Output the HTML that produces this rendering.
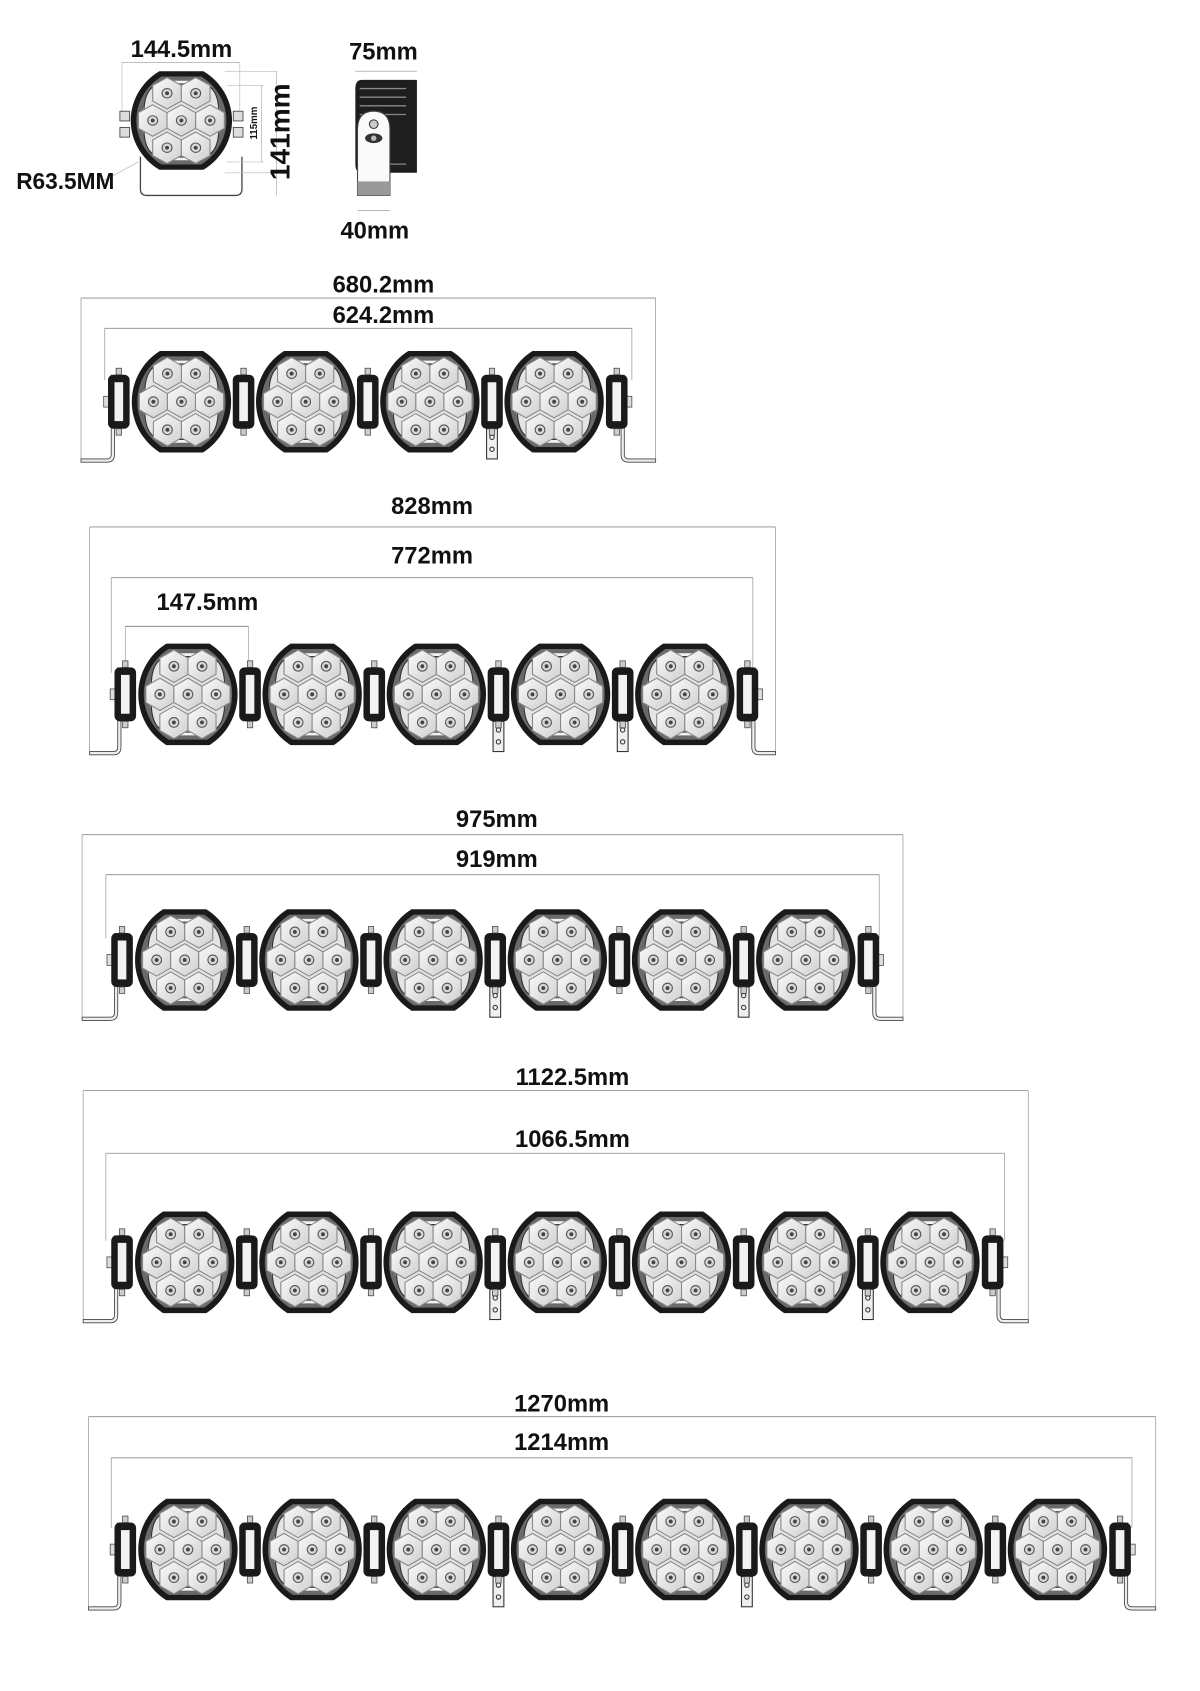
<!DOCTYPE html>
<html><head><meta charset="utf-8"><style>
html,body{margin:0;padding:0;background:#fff;width:1200px;height:1691px;overflow:hidden}
svg{display:block}
text{font-family:"Liberation Sans",sans-serif;font-weight:bold;fill:#111}
</style></head><body>
<svg id="s" width="1200" height="1691" viewBox="0 0 1111 1566" preserveAspectRatio="none" xmlns="http://www.w3.org/2000/svg">
<defs>
<linearGradient id="hx" x1="0" y1="0" x2="1" y2="1"><stop offset="0" stop-color="#fafafa"/><stop offset="1" stop-color="#cfcfcf"/></linearGradient>
<g id="L">
<path d="M26,0 H66 A55.5,55.5 0 0 1 66,94 H26 A55.5,55.5 0 0 1 26,0 Z" fill="#1a1a1a"/>
<path d="M28,5 H64 A50,50 0 0 1 64,89 H28 A50,50 0 0 1 28,5 Z" fill="#6a6a6a"/>
<path d="M30,9 H62 A46,46 0 0 1 62,85 H30 A46,46 0 0 1 30,9 Z" fill="#f4f4f4"/>
<path d="M30,12 H62 Q80,12 80,40 V54 Q80,82 62,82 H30 Q12,82 12,54 V40 Q12,12 30,12 Z" fill="#e4e4e4" stroke="#333" stroke-width="1"/>
<g id="hexes" stroke="#888" stroke-width="1" fill="url(#hx)"></g>
<g id="leds"></g>
</g>
<g id="SP">
<rect x="-10" y="-25" width="20" height="50" rx="5" fill="#1a1a1a"/>
<rect x="-4" y="-18" width="8" height="36" fill="#f2f2f2"/>
<rect x="-2.5" y="-31" width="5" height="6" fill="#ccc" stroke="#444" stroke-width="0.7"/>
<rect x="-2.5" y="25" width="5" height="6" fill="#ccc" stroke="#444" stroke-width="0.7"/>
</g>
<g id="FT">
<rect x="-5" y="0" width="10" height="28" fill="#f0f0f0" stroke="#333" stroke-width="1"/>
<circle cx="0" cy="8" r="2" fill="none" stroke="#333"/>
<circle cx="0" cy="19" r="2" fill="none" stroke="#333"/>
</g>
</defs>

<!-- top single lamp -->
<text x="168" y="53" font-size="22" text-anchor="middle">144.5mm</text>
<line x1="113" y1="58" x2="222" y2="58" stroke="#aaa" stroke-width="0.8"/>
<line x1="113" y1="58" x2="113" y2="110" stroke="#bbb" stroke-width="0.6"/>
<line x1="222" y1="58" x2="222" y2="110" stroke="#bbb" stroke-width="0.6"/>
<path d="M130,145 V175 Q130,181 136,181 H218 Q224,181 224,175 V145" fill="none" stroke="#444" stroke-width="1.2"/>
<use href="#L" transform="translate(121,66) scale(1.02,0.97)"/>
<rect x="111" y="103" width="9" height="9" fill="#ddd" stroke="#444" stroke-width="0.8"/>
<rect x="111" y="118" width="9" height="9" fill="#ddd" stroke="#444" stroke-width="0.8"/>
<rect x="216" y="103" width="9" height="9" fill="#ddd" stroke="#444" stroke-width="0.8"/>
<rect x="216" y="118" width="9" height="9" fill="#ddd" stroke="#444" stroke-width="0.8"/>
<line x1="208" y1="66" x2="256" y2="66" stroke="#bbb" stroke-width="0.6"/>
<line x1="208" y1="160" x2="256" y2="160" stroke="#bbb" stroke-width="0.6"/>
<line x1="210" y1="79" x2="244" y2="79" stroke="#bbb" stroke-width="0.6"/>
<line x1="210" y1="150" x2="244" y2="150" stroke="#bbb" stroke-width="0.6"/>
<line x1="242" y1="79" x2="242" y2="150" stroke="#aaa" stroke-width="0.6"/>
<line x1="256" y1="66" x2="256" y2="181" stroke="#aaa" stroke-width="0.6"/>
<text transform="translate(238,114) rotate(-90)" font-size="9" text-anchor="middle" font-weight="normal">115mm</text>
<text transform="translate(268,122) rotate(-90)" font-size="26" text-anchor="middle">141mm</text>
<line x1="95" y1="168" x2="128" y2="150" stroke="#aaa" stroke-width="0.6"/>
<text x="15" y="175" font-size="21">R63.5MM</text>

<!-- side view -->
<text x="355" y="55" font-size="22" text-anchor="middle">75mm</text>
<line x1="329" y1="66" x2="386" y2="66" stroke="#aaa" stroke-width="0.7"/>
<path d="M335,74 H386 V160 H335 Q329,160 329,152 V82 Q329,74 335,74 Z" fill="#1e1e1e"/>
<g stroke="#888" stroke-width="1.2"><line x1="333" y1="82" x2="376" y2="82"/><line x1="333" y1="90" x2="376" y2="90"/><line x1="333" y1="98" x2="376" y2="98"/><line x1="333" y1="106" x2="376" y2="106"/><line x1="333" y1="152" x2="376" y2="152"/></g>
<path d="M331,181 V120 Q331,103 346,103 Q361,103 361,120 V181 Z" fill="#fafafa" stroke="#444" stroke-width="1"/>
<rect x="331" y="168" width="30" height="13" fill="#999"/>
<circle cx="346" cy="115" r="4" fill="#ccc" stroke="#333"/>
<ellipse cx="346" cy="128" rx="8" ry="4.5" fill="#333"/>
<circle cx="346" cy="128" r="2.5" fill="#bbb"/>
<line x1="331" y1="195" x2="361" y2="195" stroke="#aaa" stroke-width="0.7"/>
<text x="347" y="221" font-size="22" text-anchor="middle">40mm</text>

<!-- dimension texts -->
<text x="355" y="271" font-size="22" text-anchor="middle">680.2mm</text>
<text x="355" y="299" font-size="22" text-anchor="middle">624.2mm</text>
<text x="400" y="476" font-size="22" text-anchor="middle">828mm</text>
<text x="400" y="522" font-size="22" text-anchor="middle">772mm</text>
<text x="192" y="565" font-size="22" text-anchor="middle">147.5mm</text>
<text x="460" y="766" font-size="22" text-anchor="middle">975mm</text>
<text x="460" y="803" font-size="22" text-anchor="middle">919mm</text>
<text x="530" y="1005" font-size="22" text-anchor="middle">1122.5mm</text>
<text x="530" y="1062" font-size="22" text-anchor="middle">1066.5mm</text>
<text x="520" y="1307" font-size="22" text-anchor="middle">1270mm</text>
<text x="520" y="1343" font-size="22" text-anchor="middle">1214mm</text>
<line x1="116" y1="580" x2="230" y2="580" stroke="#777" stroke-width="0.8"/>
<line x1="116" y1="580" x2="116" y2="615" stroke="#999" stroke-width="0.6"/>
<line x1="230" y1="580" x2="230" y2="615" stroke="#999" stroke-width="0.6"/>
<g id="bars"></g>
</svg>
<script>
var NS="http://www.w3.org/2000/svg";
function el(t,a,p){var e=document.createElementNS(NS,t);for(var k in a)e.setAttribute(k,a[k]);(p||document.getElementById('bars')).appendChild(e);return e;}
var pos=[[-13,-26],[13,-26],[-26,0],[0,0],[26,0],[-13,26],[13,26]];
var hg=document.getElementById('hexes'),lg=document.getElementById('leds');
pos.forEach(function(p){var cx=46+p[0],cy=47+p[1],r=15,pts=[];
for(var i=0;i<6;i++){var a=Math.PI/180*(60*i-90);pts.push((cx+r*Math.cos(a)).toFixed(1)+","+(cy+r*Math.sin(a)).toFixed(1));}
el('polygon',{points:pts.join(' ')},hg);
el('circle',{cx:cx,cy:cy,r:4.5,fill:'#d8d8d8',stroke:'#555','stroke-width':1},lg);
el('circle',{cx:cx,cy:cy,r:1.8,fill:'#444'},lg);});
var bars=[
[4,122,325,[75,607,276],[97,585,304],[2]],
[5,128,596,[83,718,488],[103,697,535],[2,3]],
[6,125,842,[76,836,773],[98,814,810],[2,4]],
[7,125,1122,[77,952,1010],[98,930,1068],[2,5]],
[8,128,1388,[82,1070,1312],[103,1048,1350],[2,4]]];
bars.forEach(function(b){
var n=b[0],x0=b[1],y=b[2],P=115,W=92,cy=y+47,bot=y+100;
var o=b[3],i=b[4];
el('line',{x1:o[0],y1:o[2],x2:o[1],y2:o[2],stroke:'#888','stroke-width':0.8});
el('line',{x1:i[0],y1:i[2],x2:i[1],y2:i[2],stroke:'#888','stroke-width':0.8});
el('line',{x1:o[0],y1:o[2],x2:o[0],y2:bot,stroke:'#999','stroke-width':0.7});
el('line',{x1:o[1],y1:o[2],x2:o[1],y2:bot,stroke:'#999','stroke-width':0.7});
el('line',{x1:i[0],y1:i[2],x2:i[0],y2:cy-20,stroke:'#999','stroke-width':0.7});
el('line',{x1:i[1],y1:i[2],x2:i[1],y2:cy-20,stroke:'#999','stroke-width':0.7});
var xl=x0-12,xr=x0+(n-1)*P+W+12;
el('path',{d:'M'+(xl-7)+','+(cy-25)+' V'+(bot-4)+' Q'+(xl-7)+','+bot+' '+(xl-11)+','+bot+' H'+o[0]+' V'+(bot+3)+' H'+(xl-11)+' Q'+(xl-4)+','+(bot+3)+' '+(xl-4)+','+(bot-4)+' V'+(cy-25),fill:'#eee',stroke:'#444','stroke-width':0.8});
el('path',{d:'M'+(xr+7)+','+(cy-25)+' V'+(bot-4)+' Q'+(xr+7)+','+bot+' '+(xr+11)+','+bot+' H'+o[1]+' V'+(bot+3)+' H'+(xr+11)+' Q'+(xr+4)+','+(bot+3)+' '+(xr+4)+','+(bot-4)+' V'+(cy-25),fill:'#eee',stroke:'#444','stroke-width':0.8});
el('rect',{x:xl-14,y:cy-5,width:6,height:10,fill:'#ddd',stroke:'#444','stroke-width':0.7});
el('rect',{x:xr+8,y:cy-5,width:6,height:10,fill:'#ddd',stroke:'#444','stroke-width':0.7});
el('use',{href:'#SP',transform:'translate('+xl+','+cy+')'});
el('use',{href:'#SP',transform:'translate('+xr+','+cy+')'});
for(var k=0;k<n;k++){
var lx=x0+k*P;
el('use',{href:'#L',transform:'translate('+lx+','+y+')'});
if(k<n-1){var sx=lx+W+(P-W)/2;
if(b[5].indexOf(k)>=0)el('use',{href:'#FT',transform:'translate('+sx+','+(cy+25)+')'});
el('use',{href:'#SP',transform:'translate('+sx+','+cy+')'});}
}
});
</script>
</body></html>
